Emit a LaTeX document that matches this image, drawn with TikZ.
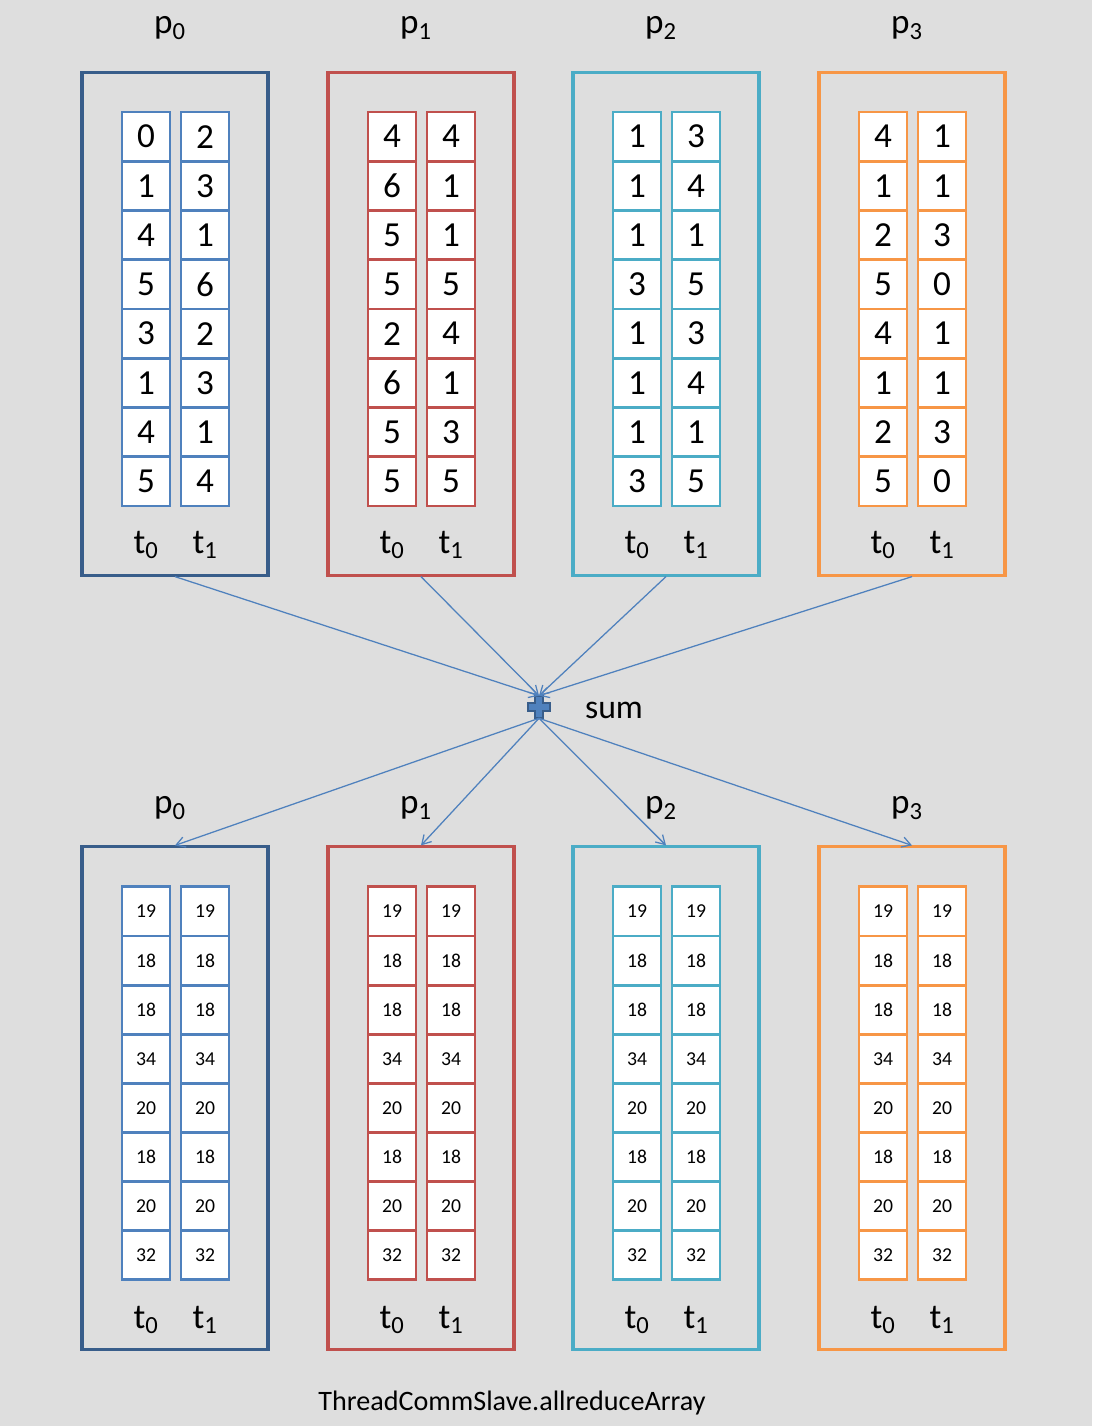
\documentclass[tikz,border=0pt]{standalone}
\usepackage{amsmath}
\usepackage{fontspec}
\setmainfont{Carlito}
\usetikzlibrary{arrows.meta}
\definecolor{bgray}{HTML}{DEDEDE}
\definecolor{pzero}{HTML}{385D8A}
\definecolor{pzerocell}{HTML}{4F81BD}
\definecolor{pone}{HTML}{C0504D}
\definecolor{ptwo}{HTML}{4BACC6}
\definecolor{pthree}{HTML}{F79646}
\definecolor{linkblue}{HTML}{4F81BD}
\tikzset{
  procbox/.style = {draw, line width=2.2pt, minimum width=4.65cm, minimum height=12.55cm, inner sep=0},
  cell/.style = {draw, fill=white, line width=2pt, minimum width=1.2cm, minimum height=1.23cm, inner sep=0},
  bigdigit/.style = {font=\fontsize{25}{30}\selectfont},
  smalldigit/.style = {font=\fontsize{14}{17}\selectfont},
  lbl/.style = {font=\fontsize{25}{30}\selectfont},
  link/.style = {draw=linkblue, line width=0.9pt, -{Straight Barb[length=2.2mm,width=2.6mm]}},
}
\newcommand{\sublbl}[2]{$\text{#1}_{\text{#2}}$}

\begin{document}
\begin{tikzpicture}[x=0.025cm, y=-0.025cm]
  \fill[bgray] (0,0) rectangle (1092,1426);
  \useasboundingbox (0,0) rectangle (1092,1426);

  % process boxes, top and bottom
  \foreach \i/\L/\col/\cellcol in {0/82/pzero/pzerocell, 1/328/pone/pone, 2/573/ptwo/ptwo, 3/819/pthree/pthree} {
    \node[procbox, draw=\col] (top\i) at (\L+93, 324) {};
    \node[procbox, draw=\col] (bot\i) at (\L+93, 1098) {};
    \node[lbl] (ptop\i) at (\L+88, 28) {\sublbl{p}{\i}};
    \node[lbl] (pbot\i) at (\L+88, 808) {\sublbl{p}{\i}};
    \node[lbl] (tt0\i) at (\L+64, 545) {\sublbl{t}{0}};
    \node[lbl] (tt1\i) at (\L+123, 545) {\sublbl{t}{1}};
    \node[lbl] (bt0\i) at (\L+64, 1320) {\sublbl{t}{0}};
    \node[lbl] (bt1\i) at (\L+123, 1320) {\sublbl{t}{1}};
    % result cells
    \foreach \v [count=\r from 0] in {19,18,18,34,20,18,20,32} {
      \node[cell, smalldigit, draw=\cellcol] (b\i-0-\r) at (\L+64, 911.5+49.1*\r) {\v};
      \node[cell, smalldigit, draw=\cellcol] (b\i-1-\r) at (\L+123, 911.5+49.1*\r) {\v};
    }
  }

  % input cells
  \foreach \i/\L/\cellcol/\colA/\colB in {
      0/82/pzerocell/{0,1,4,5,3,1,4,5}/{2,3,1,6,2,3,1,4},
      1/328/pone/{4,6,5,5,2,6,5,5}/{4,1,1,5,4,1,3,5},
      2/573/ptwo/{1,1,1,3,1,1,1,3}/{3,4,1,5,3,4,1,5},
      3/819/pthree/{4,1,2,5,4,1,2,5}/{1,1,3,0,1,1,3,0}} {
    \foreach \v [count=\r from 0] in \colA
      \node[cell, bigdigit, draw=\cellcol] (a\i-0-\r) at (\L+64, 136.6+49.25*\r) {\v};
    \foreach \v [count=\r from 0] in \colB
      \node[cell, bigdigit, draw=\cellcol] (a\i-1-\r) at (\L+123, 136.6+49.25*\r) {\v};
  }

  % sum operator
  \node[minimum size=0.55cm, inner sep=0] (plus) at (539, 707) {};
  \filldraw[fill=linkblue, draw=pzero, line width=0.8pt, shift={(plus.center)}]
    (-4,-11) -- (4,-11) -- (4,-4) -- (11,-4) -- (11,4) -- (4,4) -- (4,11)
    -- (-4,11) -- (-4,4) -- (-11,4) -- (-11,-4) -- (-4,-4) -- cycle;
  \node[font=\fontsize{24}{28}\selectfont] (sumlbl) at (614, 710) {sum};

  \foreach \i in {0,...,3} {
    \draw[link] (top\i.south) -- (plus.north);
    \draw[link] (plus.south) -- (bot\i.north);
  }

  \node[font=\fontsize{20}{24}\selectfont] (caption) at (512, 1403) {ThreadCommSlave.allreduceArray};
\end{tikzpicture}
\end{document}
